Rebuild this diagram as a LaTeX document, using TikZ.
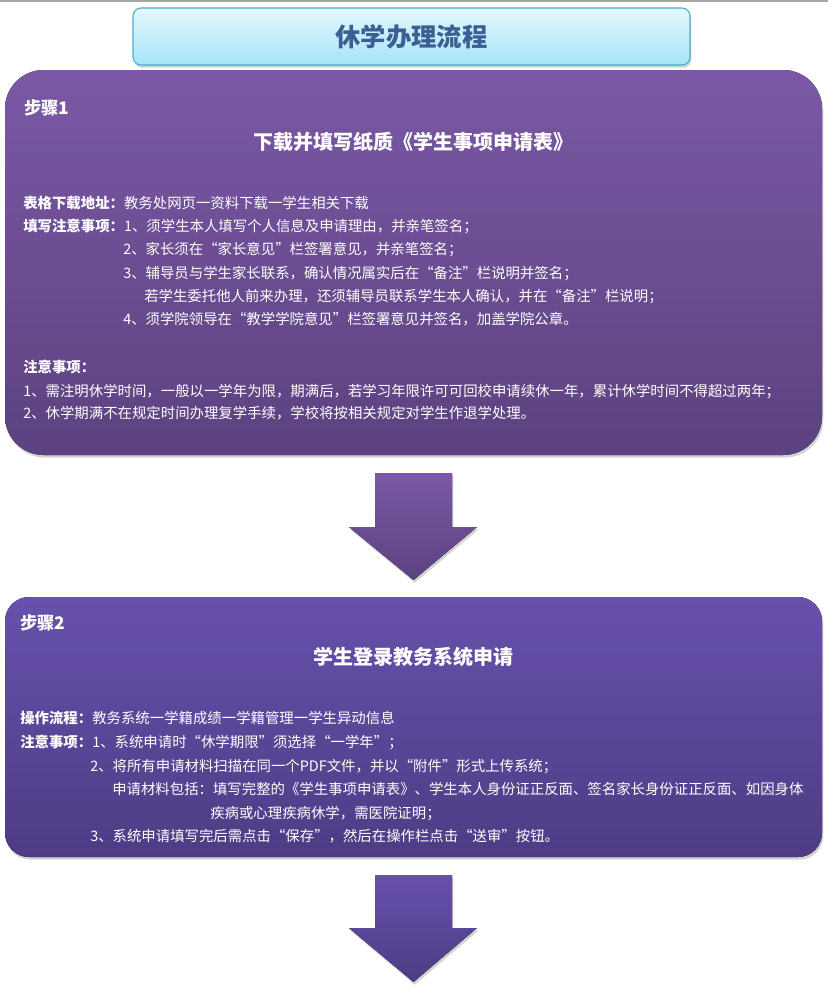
\documentclass[tikz,border=0pt]{standalone}
\usepackage{fontspec}
\setmainfont{Noto Sans CJK SC}
\usepackage{tikz}
\usetikzlibrary{shadows}
\definecolor{titletop}{HTML}{E4F8FD}
\definecolor{titlebot}{HTML}{A4E5F9}
\definecolor{titleline}{HTML}{46AECE}
\definecolor{titletext}{HTML}{3B5E93}
\definecolor{onetop}{HTML}{7B58A5}
\definecolor{onebot}{HTML}{5C4280}
\definecolor{twotop}{HTML}{6751AC}
\definecolor{twobot}{HTML}{4D3C84}
\def\wnode{\node[anchor=base west,inner sep=0pt,text=white,font=\fontsize{10.8}{13}\selectfont]}
\def\hnode{\node[anchor=base,inner sep=0pt,text=white,font=\fontsize{15}{17}\bfseries]}
\def\snode{\node[anchor=base west,inner sep=0pt,text=white,font=\fontsize{13}{15}\bfseries]}

\begin{document}
\begin{tikzpicture}[x=0.75pt,y=-0.75pt,
  boxshadow/.style={drop shadow={opacity=0.35,shadow xshift=1pt,shadow yshift=-2pt}}]
\useasboundingbox (0,0) rectangle (828,989);
\draw[gray!70,line width=1.2pt] (0,0.8) -- (828,0.8);
% title
\draw[titleline,line width=0.8pt,rounded corners=6pt,top color=titletop,bottom color=titlebot,boxshadow] (133,8) rectangle (690,65);
\node[font=\fontsize{19}{21}\bfseries,text=titletext] (title) at (411.5,36.5) {休学办理流程};
% step 1
\fill[rounded corners=29pt,top color=onetop,bottom color=onebot,boxshadow] (5,70) rectangle (822,455);
\snode (s1) at (24,114) {步骤1};
\hnode (h1) at (413.5,149) {下载并填写纸质《学生事项申请表》};
\wnode (a1) at (23,208) {\textbf{表格下载地址：}教务处网页一资料下载一学生相关下载};
\wnode (a2) at (23,231) {\textbf{填写注意事项：}1、须学生本人填写个人信息及申请理由，并亲笔签名；};
\wnode (a3) at (123,254) {2、家长须在“家长意见”栏签署意见，并亲笔签名；};
\wnode (a4) at (123,278) {3、辅导员与学生家长联系，确认情况属实后在“备注”栏说明并签名；};
\wnode (a5) at (144,301) {若学生委托他人前来办理，还须辅导员联系学生本人确认，并在“备注”栏说明；};
\wnode (a6) at (123,324) {4、须学院领导在“教学学院意见”栏签署意见并签名，加盖学院公章。};
\wnode (n0) at (23,372) {\textbf{注意事项：}};
\wnode (n1) at (23,396) {1、需注明休学时间，一般以一学年为限，期满后，若学习年限许可可回校申请续休一年，累计休学时间不得超过两年；};
\wnode (n2) at (23,418) {2、休学期满不在规定时间办理复学手续，学校将按相关规定对学生作退学处理。};
% arrow 1
\fill[top color=onetop,bottom color=onebot,boxshadow] (375,473) -- (452,473) -- (452,527) -- (477,527) -- (413.5,580) -- (349,527) -- (375,527) -- cycle;
% step 2
\fill[rounded corners=18pt,top color=twotop,bottom color=twobot,boxshadow] (5,597) rectangle (822,857);
\snode (s2) at (20,629) {步骤2};
\hnode (h2) at (413.5,664) {学生登录教务系统申请};
\wnode (b1) at (20,723) {\textbf{操作流程：}教务系统一学籍成绩一学籍管理一学生异动信息};
\wnode (b2) at (20,747) {\textbf{注意事项：}1、系统申请时“休学期限”须选择“一学年”；};
\wnode (b3) at (90,771) {2、将所有申请材料扫描在同一个PDF文件，并以“附件”形式上传系统；};
\wnode (b4) at (112,794) {申请材料包括：填写完整的《学生事项申请表》、学生本人身份证正反面、签名家长身份证正反面、如因身体};
\wnode (b5) at (210,818) {疾病或心理疾病休学，需医院证明；};
\wnode (b6) at (90,841) {3、系统申请填写完后需点击“保存”，然后在操作栏点击“送审”按钮。};
% arrow 2
\fill[top color=twotop,bottom color=twobot,boxshadow] (375,875) -- (452,875) -- (452,928) -- (477,928) -- (413.5,982) -- (349,928) -- (375,928) -- cycle;
\end{tikzpicture}
\end{document}
